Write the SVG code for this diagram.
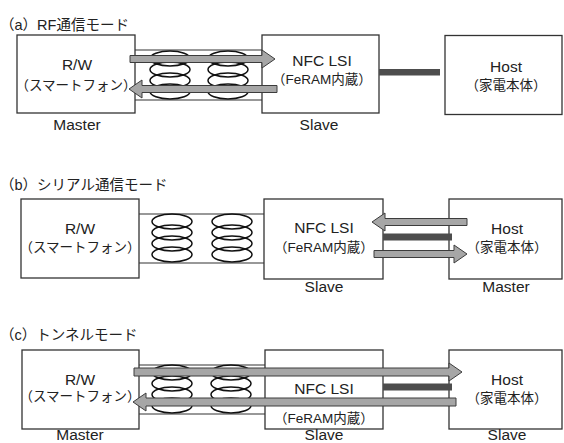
<svg xmlns="http://www.w3.org/2000/svg" width="564" height="443" viewBox="0 0 564 443">
<style>
.box{fill:#fff;stroke:#333;stroke-width:1.3}
.wire{stroke:#333;stroke-width:1.2;fill:none}
.coil{fill:none;stroke:#111;stroke-width:1.5}
.arr{fill:#a6a6a6;stroke:#3c3c3c;stroke-width:1}
.bar{fill:#4d4d4d}
.t{font-family:"Liberation Sans","Noto Sans CJK JP",sans-serif;fill:#222;text-anchor:middle}
.lat{font-size:15.5px}
.cjk{font-size:13.5px}
.title{font-family:"Liberation Sans","Noto Sans CJK JP",sans-serif;font-size:14.5px;fill:#222}
</style>
<defs>
<g id="coil">
<ellipse class="coil" cx="0" cy="7.5" rx="20" ry="7.5"/>
<ellipse class="coil" cx="0" cy="18.5" rx="20" ry="7.5"/>
<ellipse class="coil" cx="0" cy="29.5" rx="20" ry="7.5"/>
<ellipse class="coil" cx="0" cy="40.5" rx="20" ry="7.5"/>
</g>
</defs>
<rect width="564" height="443" fill="#fff"/>

<!-- (a) -->
<text class="title" x="0" y="29.5">（a）RF通信モード</text>
<g id="a-rw">
<rect class="box" x="17" y="35" width="118" height="78"/>
<text class="t lat" x="77" y="70">R/W</text>
<text class="t cjk" x="76" y="90">（スマートフォン）</text>
<text class="t lat" x="77" y="130">Master</text>
</g>
<g id="a-nfc">
<rect class="box" x="262" y="35" width="117" height="78"/>
<text class="t lat" x="322" y="65.5">NFC LSI</text>
<text class="t cjk" x="322" y="84">（FeRAM内蔵）</text>
<text class="t lat" x="319" y="130">Slave</text>
</g>
<g id="a-host">
<rect class="box" x="445" y="35.5" width="117" height="79"/>
<text class="t lat" x="506" y="72">Host</text>
<text class="t cjk" x="506" y="90">（家電本体）</text>
</g>

<!-- (b) -->
<text class="title" x="0" y="190">（b）シリアル通信モード</text>
<g id="b-rw">
<rect class="box" x="21" y="199" width="118" height="79"/>
<text class="t lat" x="80" y="234">R/W</text>
<text class="t cjk" x="80" y="252">（スマートフォン）</text>
</g>
<g id="b-nfc">
<rect class="box" x="264" y="199" width="119" height="80"/>
<text class="t lat" x="324" y="233">NFC LSI</text>
<text class="t cjk" x="324" y="252">（FeRAM内蔵）</text>
<text class="t lat" x="324" y="292">Slave</text>
</g>
<g id="b-host">
<rect class="box" x="449" y="199" width="113" height="80"/>
<text class="t lat" x="507" y="234">Host</text>
<text class="t cjk" x="507" y="252">（家電本体）</text>
<text class="t lat" x="506" y="292">Master</text>
</g>

<!-- (c) -->
<text class="title" x="0" y="340">（c）トンネルモード</text>
<g id="c-rw">
<rect class="box" x="22" y="350" width="117" height="79"/>
<text class="t lat" x="80" y="385">R/W</text>
<text class="t cjk" x="80" y="401">（スマートフォン）</text>
<text class="t lat" x="80" y="440">Master</text>
</g>
<g id="c-nfc">
<rect class="box" x="265" y="350" width="118" height="79"/>
<text class="t lat" x="324" y="393.5">NFC LSI</text>
<text class="t cjk" x="324" y="423">（FeRAM内蔵）</text>
<text class="t lat" x="324" y="440">Slave</text>
</g>
<g id="c-host">
<rect class="box" x="449" y="350" width="113" height="79"/>
<text class="t lat" x="507" y="384.5">Host</text>
<text class="t cjk" x="507" y="403">（家電本体）</text>
<text class="t lat" x="507" y="440">Slave</text>
</g>

<g id="connectors">
<!-- (a) -->
<path class="wire" d="M135,50H262M135,100H262"/>
<use href="#coil" x="170" y="51"/>
<use href="#coil" x="228" y="51"/>
<path class="arr" d="M130,55.5L262,55.5L262,50L275,59L262,68L262,62.5L130,62.5Z"/>
<path class="arr" d="M277,85.5L142,85.5L142,80L129,89L142,98L142,92.5L277,92.5Z"/>
<rect class="bar" x="379" y="69" width="61" height="6.5"/>
<!-- (b) -->
<path class="wire" d="M139,214H264M139,263H264"/>
<use href="#coil" x="172" y="214"/>
<use href="#coil" x="232" y="214"/>
<path class="arr" d="M467,218.5L385,218.5L385,213L372,222L385,231L385,225.5L467,225.5Z"/>
<rect class="bar" x="383" y="233.5" width="69" height="7"/>
<path class="arr" d="M374,250.5L454,250.5L454,245L467,254L454,263L454,257.5L374,257.5Z"/>
<!-- (c) -->
<path class="wire" d="M139,365H265M139,414H265"/>
<use href="#coil" x="172" y="365"/>
<use href="#coil" x="231" y="365"/>
<path class="arr" d="M134,368L449,368L449,363L462,372L449,381L449,376L134,376Z"/>
<rect class="bar" x="383" y="383.5" width="69" height="7"/>
<path class="arr" d="M456,398L146,398L146,393L133,402L146,411L146,406L456,406Z"/>
</g>
</svg>
